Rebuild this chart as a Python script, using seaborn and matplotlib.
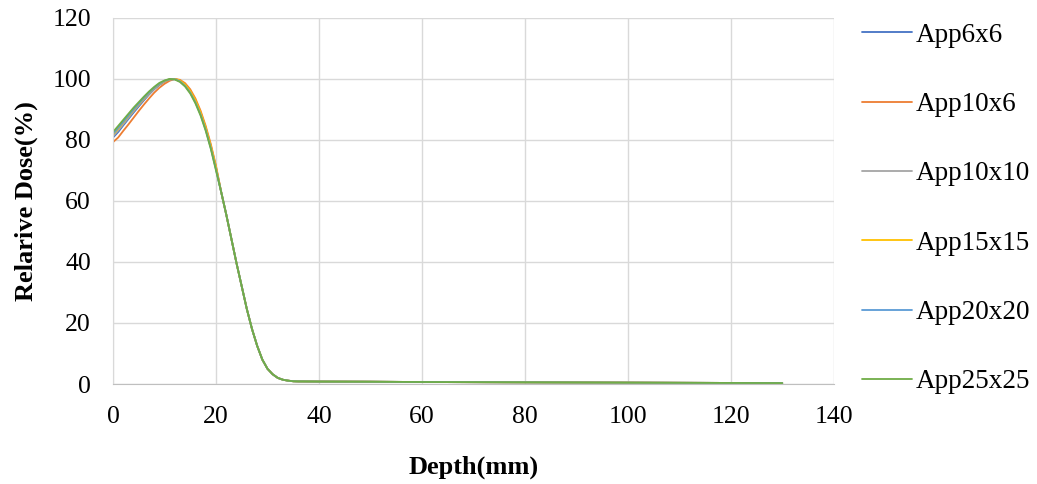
import numpy as np
import pandas as pd
import matplotlib
matplotlib.use("Agg")
import matplotlib.pyplot as plt
import seaborn as sns

# depth points (mm)
depth = list(range(0, 37)) + [40, 50, 60, 70, 80, 90, 100, 110, 120, 130]

# build-up region, depth 0..20 mm (differs between applicators)
buildup_6x6 = [80.8, 82.6, 84.8, 86.9, 89.0, 91.0, 93.0, 94.9, 96.6, 98.0, 99.1, 99.8, 100.0, 99.4, 98.0, 95.9, 92.8, 88.8, 83.8, 77.8, 70.8]
buildup_10x6 = [79.3, 80.8, 83.0, 85.1, 87.3, 89.5, 91.6, 93.6, 95.5, 97.1, 98.4, 99.4, 100.0, 99.7, 98.6, 96.6, 93.6, 89.6, 84.6, 78.6, 71.5]
buildup_10x10 = [81.2, 83.1, 85.2, 87.3, 89.4, 91.4, 93.3, 95.1, 96.8, 98.2, 99.2, 99.8, 99.9, 99.3, 97.9, 95.7, 92.6, 88.6, 83.6, 77.6, 70.6]
buildup_15x15 = [81.8, 83.7, 85.8, 87.8, 89.8, 91.7, 93.6, 95.4, 97.0, 98.3, 99.3, 99.9, 100.0, 99.5, 98.2, 96.1, 93.1, 89.1, 84.1, 78.1, 71.2]
buildup_20x20 = [82.0, 84.0, 86.0, 88.0, 90.0, 91.9, 93.8, 95.5, 97.1, 98.4, 99.4, 99.9, 99.9, 99.2, 97.7, 95.5, 92.3, 88.3, 83.3, 77.3, 70.3]
buildup_25x25 = [82.6, 84.6, 86.6, 88.6, 90.6, 92.4, 94.2, 95.9, 97.4, 98.7, 99.5, 100.0, 99.8, 99.0, 97.5, 95.2, 92.0, 88.0, 83.0, 77.0, 70.0]

# fall-off and tail, depth 21..36 then 40..130 mm (common to all)
falloff = [63.0, 55.5, 47.5, 39.5, 32.0, 24.5, 18.0, 12.5, 8.0, 5.0, 3.2, 2.0, 1.4, 1.1, 0.9, 0.85,
           0.8, 0.75, 0.65, 0.6, 0.55, 0.5, 0.45, 0.4, 0.35, 0.3]

labels = ["App6x6", "App10x6", "App10x10", "App15x15", "App20x20", "App25x25"]
buildups = [buildup_6x6, buildup_10x6, buildup_10x10, buildup_15x15, buildup_20x20, buildup_25x25]
colors = ["#4472C4", "#ED7D31", "#A5A5A5", "#FFC000", "#5B9BD5", "#70AD47"]

rows = []
for lab, b in zip(labels, buildups):
    for d, v in zip(depth, b + falloff):
        rows.append({"Depth": d, "Dose": v, "Applicator": lab})
df = pd.DataFrame(rows)

sns.set_style("white")
plt.rcParams["font.family"] = ["Liberation Serif", "DejaVu Serif"]
plt.rcParams["text.color"] = "black"
plt.rcParams["axes.labelcolor"] = "black"
plt.rcParams["xtick.color"] = "black"
plt.rcParams["ytick.color"] = "black"

fs = 18.5

fig = plt.figure(figsize=(10.37, 4.84), dpi=100)
ax = fig.add_axes([0.109, 0.2066, 0.695, 0.7564])

sns.lineplot(data=df, x="Depth", y="Dose", hue="Applicator", palette=colors,
             linewidth=1.3, ax=ax, legend=True)

ax.set_xlim(0, 140)
ax.set_ylim(0, 120)
ax.set_xticks(range(0, 141, 20))
ax.set_yticks(range(0, 121, 20))
ax.grid(True, color="#D9D9D9", linewidth=1.0)
ax.set_axisbelow(True)
for s in ["top", "right"]:
    ax.spines[s].set_visible(False)
ax.spines["left"].set_color("#D9D9D9")
ax.spines["bottom"].set_color("#BFBFBF")
ax.tick_params(axis="y", length=0, labelsize=fs, pad=16)
ax.tick_params(axis="x", length=0, labelsize=fs, pad=16)

ax.set_xlabel("Depth(mm)", fontsize=19, fontweight="bold", labelpad=20)
ax.set_ylabel("Relarive Dose(%)", fontsize=19, fontweight="bold", labelpad=10)

ax.legend(loc="center left", bbox_to_anchor=(862 / 1037, 0.569), bbox_transform=fig.transFigure,
          frameon=False, fontsize=19.5, labelspacing=1.636, handlelength=1.85,
          handletextpad=0.12, borderpad=0, borderaxespad=0, title=None)

fig.savefig("out.png", dpi=100)
